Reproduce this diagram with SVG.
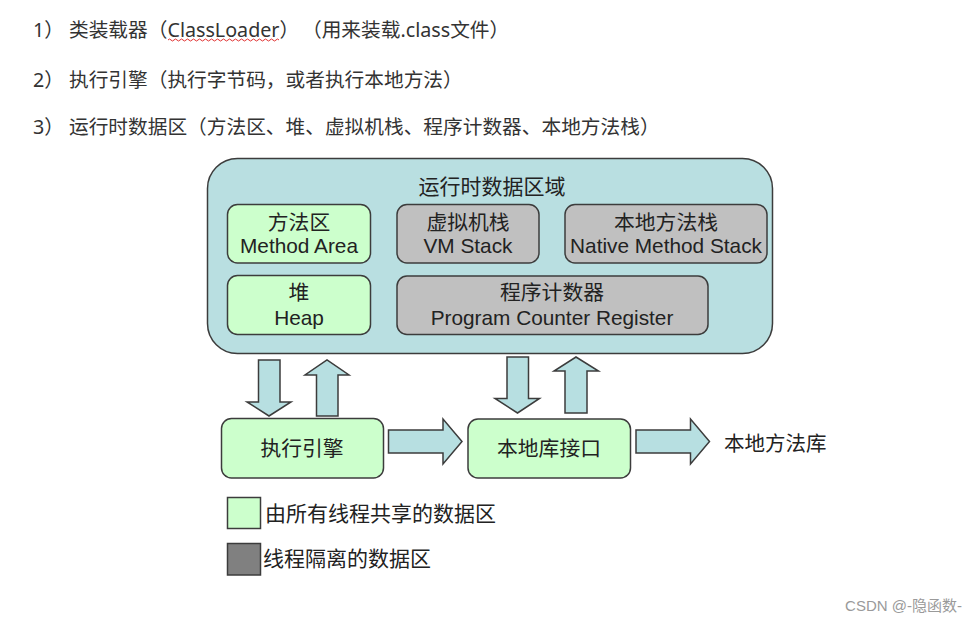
<svg xmlns="http://www.w3.org/2000/svg" width="980" height="623" viewBox="0 0 980 623">
<style>
.top{font-family:"Noto Sans","Noto Sans CJK SC",sans-serif;font-size:19.7px;fill:#333}
.t{font-family:"Liberation Sans","Noto Sans CJK SC",sans-serif;font-size:20.8px;fill:#222;text-anchor:middle}
.lg{font-family:"Liberation Sans","Noto Sans CJK SC",sans-serif;font-size:21px;fill:#222}
.green{fill:#ccffcc;stroke:#3c3c3c;stroke-width:1.5}
.gray{fill:#c0c0c0;stroke:#3c3c3c;stroke-width:1.5}
.arr{fill:#b7dfe1;stroke:#3c3c3c;stroke-width:1.5;stroke-linejoin:miter}
</style>
<rect width="980" height="623" fill="#ffffff"/>
<g id="intro">
<text class="top" x="33" y="37">1）</text>
<text class="top" x="69" y="37">类装载器（ClassLoader）</text>
<text class="top" x="302" y="37">（用来装载.class文件）</text>
<path d="M168 40 q1.5 -2 3 0 t3 0 t3 0 t3 0 t3 0 t3 0 t3 0 t3 0 t3 0 t3 0 t3 0 t3 0 t3 0 t3 0 t3 0 t3 0 t3 0 t3 0 t3 0 t3 0 t3 0 t3 0 t3 0 t3 0 t3 0 t3 0 t3 0 t3 0 t3 0 t3 0 t3 0 t3 0 t3 0 t3 0 t3 0 t3 0 t3 0" fill="none" stroke="#e03030" stroke-width="1"/>
<text class="top" x="33" y="87">2）</text>
<text class="top" x="69" y="87">执行引擎（执行字节码，或者执行本地方法）</text>
<text class="top" x="33" y="134">3）</text>
<text class="top" x="69" y="134">运行时数据区（方法区、堆、虚拟机栈、程序计数器、本地方法栈）</text>
</g>
<g id="runtime-area">
<rect x="207.5" y="158.5" width="565" height="195" rx="30" fill="#b9dfe1" stroke="#3c3c3c" stroke-width="1.5"/>
<text class="t" x="492" y="194" style="font-size:21px">运行时数据区域</text>
</g>
<g id="method-area">
<rect class="green" x="227.5" y="204.5" width="143" height="58.5" rx="10"/>
<text class="t" x="299" y="230">方法区</text>
<text class="t" x="299" y="253">Method Area</text>
</g>
<g id="vm-stack">
<rect class="gray" x="397" y="204.5" width="142" height="58.5" rx="10"/>
<text class="t" x="468" y="230">虚拟机栈</text>
<text class="t" x="468" y="253">VM Stack</text>
</g>
<g id="native-method-stack">
<rect class="gray" x="565" y="204.5" width="202" height="58.5" rx="10"/>
<text class="t" x="666" y="230">本地方法栈</text>
<text class="t" x="666" y="253">Native Method Stack</text>
</g>
<g id="heap">
<rect class="green" x="227.5" y="275.5" width="143" height="59" rx="10"/>
<text class="t" x="299" y="300">堆</text>
<text class="t" x="299" y="325">Heap</text>
</g>
<g id="pc-register">
<rect class="gray" x="397" y="276" width="311" height="58.5" rx="10"/>
<text class="t" x="552" y="300">程序计数器</text>
<text class="t" x="552" y="325">Program Counter Register</text>
</g>
<g id="execution-engine">
<rect class="green" x="221.5" y="418.5" width="162" height="59.5" rx="10"/>
<text class="t" x="302" y="456">执行引擎</text>
</g>
<g id="native-interface">
<rect class="green" x="468" y="419" width="162.5" height="59" rx="10"/>
<text class="t" x="549" y="455.5">本地库接口</text>
</g>
<g id="native-library">
<text class="lg" x="724" y="450.5" style="font-size:20.5px">本地方法库</text>
</g>
<g id="connectors">
<polygon class="arr" points="258.5,360 280,360 280,402 291,402 269,416 247,402 258.5,402"/>
<polygon class="arr" points="316.5,416 338,416 338,375 349,375 327,360 305,375 316.5,375"/>
<polygon class="arr" points="507,357 528.5,357 528.5,398.5 539.5,398.5 517.5,413 495,398.5 507,398.5"/>
<polygon class="arr" points="565,413 587,413 587,371 598.5,371 576,357 554,371 565,371"/>
<polygon class="arr" points="388.5,430 443,430 443,419 462,441.5 443,464 443,453 388.5,453"/>
<polygon class="arr" points="636,430 690.5,430 690.5,419 709.5,441.5 690.5,464 690.5,453 636,453"/>
</g>
<g id="legend">
<rect x="227.5" y="497.5" width="33" height="31" fill="#ccffcc" stroke="#3c3c3c" stroke-width="1.5"/>
<text class="lg" x="265" y="521">由所有线程共享的数据区</text>
<rect x="227.5" y="543.5" width="33" height="31.5" fill="#808080" stroke="#3c3c3c" stroke-width="1.5"/>
<text class="lg" x="263" y="566">线程隔离的数据区</text>
</g>
<text x="962" y="611" text-anchor="end" style="font-family:'Liberation Sans','Noto Sans CJK SC',sans-serif;font-size:15px;fill:#9a9a9a">CSDN @-隐函数-</text>
</svg>
